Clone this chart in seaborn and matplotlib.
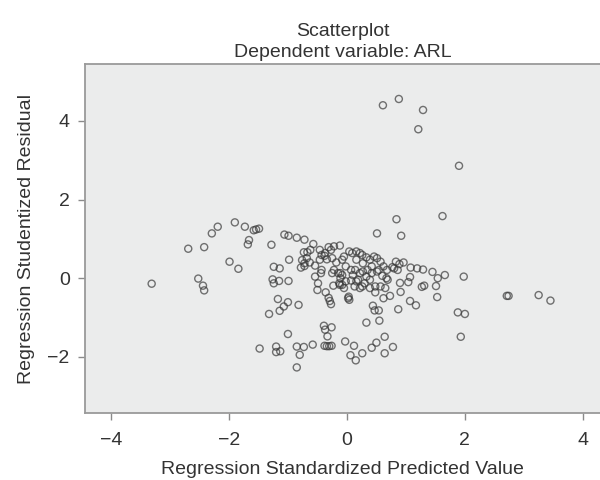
import numpy as np
import pandas as pd
import seaborn as sns
import matplotlib
matplotlib.use("Agg")
import matplotlib.pyplot as plt

# --- Data (x = standardized predicted, y = studentized residual) ---
# upper outliers
pred_high = [0.61, 0.88, 1.29, 1.21, 1.90, 1.62, 0.84, 0.51, 0.92]
resid_high = [4.40, 4.56, 4.28, 3.79, 2.86, 1.58, 1.50, 1.14, 1.08]

# left part of the cloud
pred_left = [-3.31, -2.69, -2.42, -2.52, -2.44, -2.42, -2.29, -2.19, -1.99, -1.84,
             -1.90, -1.73, -1.66, -1.68, -1.58, -1.54, -1.49, -1.28, -1.06, -0.99,
             -0.85, -0.72, -0.98, -1.24, -1.14, -1.26, -1.24, -1.15, -0.99, -1.17,
             -1.00, -1.07, -1.14, -1.32, -0.82, -1.00, -1.48, -1.20, -1.20, -1.13,
             -0.85, -0.80, -0.73, -0.58, -0.85]
resid_left = [-0.14, 0.75, 0.79, -0.01, -0.19, -0.31, 1.14, 1.31, 0.42, 0.24,
              1.42, 1.31, 0.97, 0.86, 1.22, 1.24, 1.26, 0.85, 1.11, 1.08,
              1.03, 0.98, 0.47, 0.29, 0.25, -0.03, -0.13, -0.07, -0.07, -0.53,
              -0.61, -0.72, -0.83, -0.91, -0.68, -1.42, -1.79, -1.74, -1.88, -1.86,
              -1.74, -1.95, -1.75, -1.69, -2.27]

# lower band and right tail
pred_low = [-0.39, -0.37, -0.26, -0.33, -0.38, -0.34, -0.30, -0.26, -0.03, 0.12,
            0.06, 0.15, 0.26, 0.42, 0.50, 0.64, 0.64, 0.78, 0.33, 0.55,
            0.44, 0.47, 0.54, 0.87, 1.07, 1.17, 1.88, 2.00, 1.93, 1.53,
            1.51, 1.27, 1.31, 1.54, 1.66, 1.45, 1.29, 1.19, 1.08, 1.98,
            1.07, 1.04, 0.90, 0.91, 2.71, 2.74, 3.25, 3.45]
resid_low = [-1.21, -1.31, -1.25, -1.48, -1.72, -1.73, -1.73, -1.72, -1.61, -1.72,
             -1.96, -2.09, -1.91, -1.77, -1.64, -1.49, -1.91, -1.75, -1.13, -1.08,
             -0.70, -0.82, -0.82, -0.79, -0.58, -0.69, -0.87, -0.91, -1.49, -0.48,
             -0.20, -0.22, -0.19, 0.00, 0.08, 0.16, 0.22, 0.25, 0.27, 0.04,
             0.03, -0.10, -0.12, -0.35, -0.45, -0.45, -0.43, -0.57]

# dense centre
pred_mid = [-0.29, -0.31, -0.27, -0.36, -0.50, -0.49, -0.54, -0.44, -0.23, 0.02,
            0.04, 0.03, -0.76, -0.68, -0.72, -0.67, -0.73, -0.57, -0.62, -0.78,
            -0.72, -0.63, -0.54, -0.46, -0.43, -0.37, -0.31, -0.27, -0.22, -0.12,
            -0.38, -0.46, -0.34, -0.25, -0.18, -0.08, -0.05, 0.04, 0.09, 0.16,
            0.22, 0.26, 0.33, 0.39, 0.46, 0.51, 0.57, 0.62, 0.68, 0.77,
            0.83, 0.89, 0.96, -0.22, -0.15, -0.08, -0.02, 0.07, 0.14, 0.22,
            0.27, 0.35, 0.42, 0.51, 0.60, 0.67, 0.69, -0.13, -0.08, -0.02,
            0.07, 0.13, 0.22, 0.26, 0.30, 0.39, 0.48, 0.57, 0.65, 0.73,
            0.62, 0.48, 0.39, -0.43, -0.25, -0.11, 0.10, 0.19, -0.11, 0.16,
            0.27, 0.42, 0.54, 0.33, 0.16, -0.05, -0.12, 0.80, 0.86]
resid_mid = [-0.58, -0.50, -0.66, -0.36, -0.30, -0.13, 0.04, 0.13, -0.19, -0.51,
             -0.55, -0.47, 0.46, 0.51, 0.38, 0.66, 0.66, 0.87, 0.72, 0.27,
             0.31, 0.40, 0.32, 0.47, 0.59, 0.64, 0.79, 0.72, 0.81, 0.83,
             0.57, 0.72, 0.48, 0.51, 0.40, 0.47, 0.55, 0.68, 0.64, 0.68,
             0.64, 0.59, 0.53, 0.47, 0.55, 0.51, 0.42, 0.30, 0.21, 0.28,
             0.42, 0.36, 0.40, 0.21, 0.13, 0.08, 0.30, 0.21, 0.21, 0.13,
             0.17, 0.21, 0.13, 0.17, 0.06, 0.00, -0.04, -0.13, -0.17, -0.08,
             -0.06, -0.21, -0.25, -0.21, -0.13, -0.04, -0.21, -0.21, -0.25, -0.45,
             -0.51, -0.36, -0.25, 0.21, 0.13, 0.00, 0.08, -0.04, 0.13, 0.47,
             0.38, 0.30, 0.21, 0.04, -0.08, -0.25, -0.17, 0.25, 0.21]

df = pd.DataFrame({
    "pred": pred_high + pred_left + pred_low + pred_mid,
    "resid": resid_high + resid_left + resid_low + resid_mid,
})

# --- Plot ---
sns.set_style("white")
plt.rcParams["font.family"] = ["Liberation Sans", "DejaVu Sans"]

fig = plt.figure(figsize=(6, 4.8), dpi=100)
ax = fig.add_axes([85 / 600, 1 - 413 / 480, 515 / 600, 349 / 480])
ax.set_facecolor("#ebecec")

sns.scatterplot(data=df, x="pred", y="resid", ax=ax, s=26, marker="o",
                facecolor="none", edgecolor="#3a3a3a", linewidth=1.0, alpha=0.7)

ax.set_xlim(-4.44, 4.29)
ax.set_ylim(-3.43, 5.45)
ax.set_xticks([-4, -2, 0, 2, 4])
ax.set_yticks([-2, 0, 2, 4])
ax.set_xticklabels(["\u22124", "\u22122", "0", "2", "4"])
ax.set_yticklabels(["\u22122", "0", "2", "4"])

for side in ["left", "bottom", "top"]:
    ax.spines[side].set_color("#9a9a9a")
    ax.spines[side].set_linewidth(1.3)
ax.spines["right"].set_visible(False)

ax.tick_params(axis="both", direction="out", length=5, width=1.0, color="#8a8a8a",
               labelsize=14, labelcolor="#333333", left=True, bottom=True)
ax.tick_params(axis="x", pad=9)
ax.tick_params(axis="y", pad=6)

ax.set_xlabel("Regression Standardized Predicted Value", fontsize=14, color="#333333", labelpad=8)
ax.set_ylabel("Regression Studentized Residual", fontsize=14, color="#333333", labelpad=9)
ax.set_title("Scatterplot\nDependent variable: ARL", fontsize=14, color="#333333",
             linespacing=1.35, pad=5)

plt.savefig("out.png", dpi=100)
print("saved out.png", len(df))
